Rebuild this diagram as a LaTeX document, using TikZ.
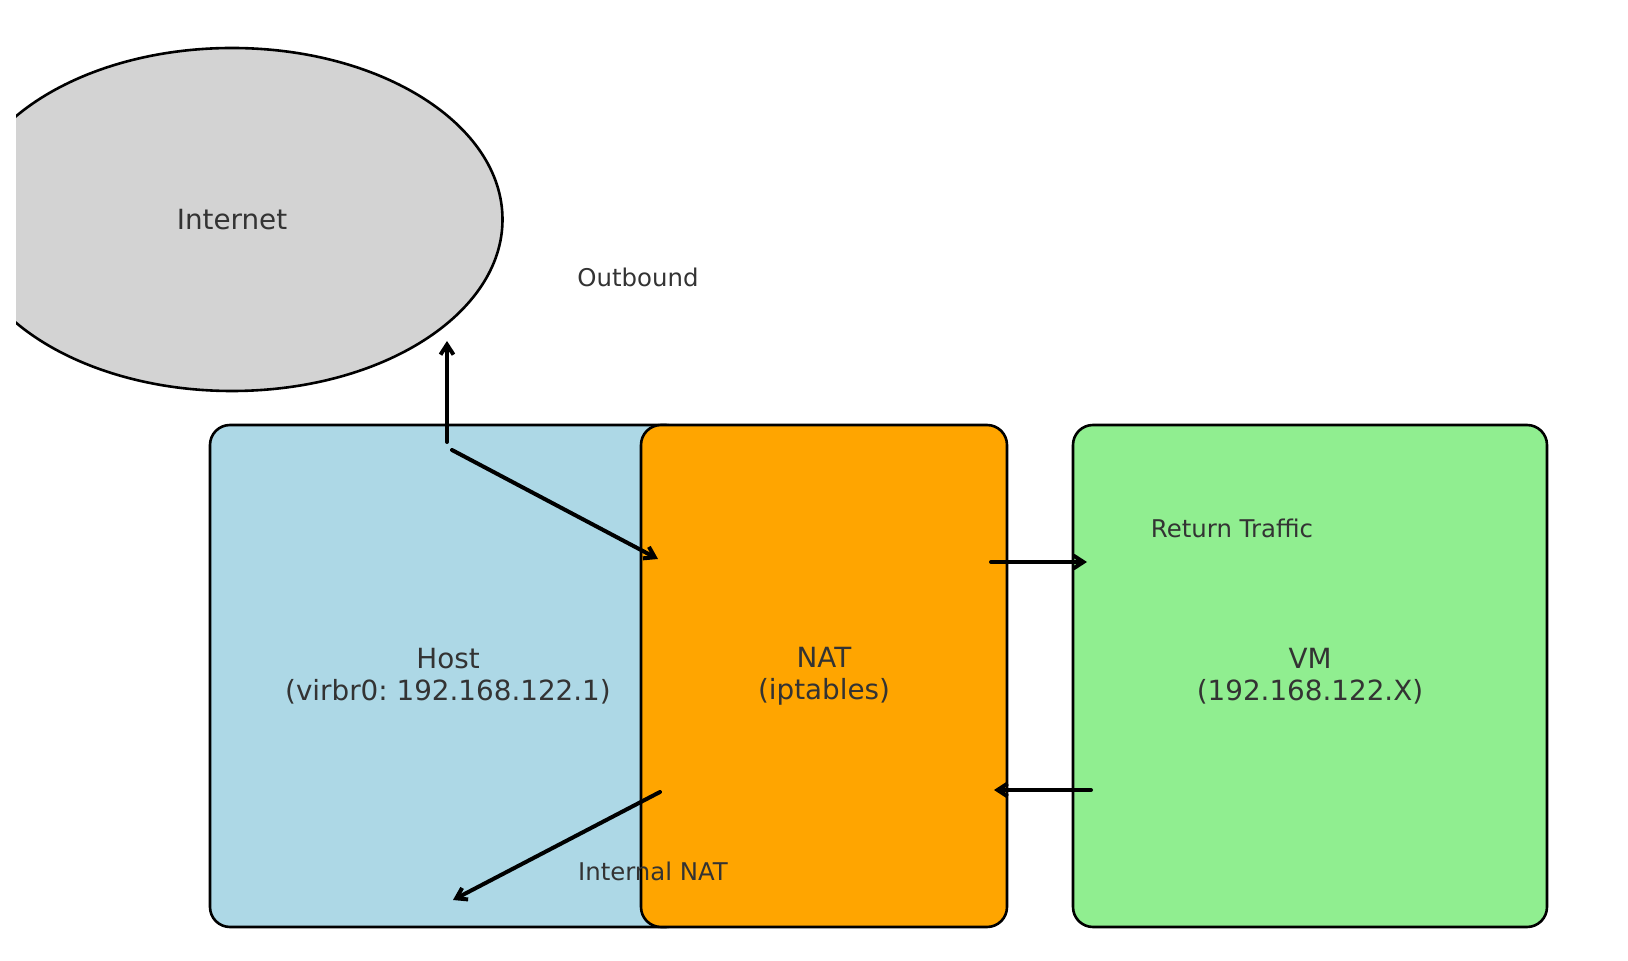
\documentclass[tikz,border=0pt]{standalone}
\usepackage{fontspec}
\setmainfont{DejaVu Sans}
\frenchspacing
\usetikzlibrary{arrows.meta,shapes.geometric}

\definecolor{hostblue}{HTML}{ADD8E6}
\definecolor{natorange}{HTML}{FFA500}
\definecolor{vmgreen}{HTML}{90EE90}
\definecolor{netgray}{HTML}{D3D3D3}
\definecolor{txt}{HTML}{333333}

\begin{document}
\begin{tikzpicture}[
x=0.5pt, y=-0.5pt,
font=\fontsize{13.9}{16.2}\selectfont,
    box/.style={draw=black, line width=1.3pt, rounded corners=10pt,
        minimum height=251pt, inner sep=0pt, align=center, text=txt},
    cloud/.style={ellipse, draw=black, line width=1.3pt, fill=netgray,
        minimum width=270.5pt, minimum height=171.5pt, inner sep=0pt, text=txt},
    lbl/.style={anchor=base, text=txt, font=\fontsize{12.2}{14}\selectfont},
    post/.style={-{Straight Barb[length=5pt,width=6.5pt]}, line width=2pt,
        line cap=round, line join=round}
]
\useasboundingbox (0,0) rectangle (1628,961);

\begin{scope}
\clip (16,0) rectangle (1628,961);
\node[cloud] (internet) at (232,219.5) {Internet};
\end{scope}

\node[box, fill=hostblue, minimum width=238pt] (host) at (448,676) {Host\\(virbr0: 192.168.122.1)};
\node[box, fill=natorange, minimum width=183pt] (nat) at (824,676) {NAT\\(iptables)};
\node[box, fill=vmgreen, minimum width=237pt] (vm) at (1310,676) {VM\\(192.168.122.X)};

% arrow ends
\coordinate (up0) at (447,442);
\coordinate (up1) at (447,341);
\coordinate (d0) at (452,450);
\coordinate (d1) at (658,559);
\coordinate (r0) at (991,562);
\coordinate (r1) at (1087,562);
\coordinate (l0) at (1091,790);
\coordinate (l1) at (994,790);
\coordinate (b0) at (660,792);
\coordinate (b1) at (453,900);

\draw[post] (up0) -- (up1);
\draw[post] (d0) -- (d1);
\draw[post] (r0) -- (r1);
\draw[post] (l0) -- (l1);
\draw[post] (b0) -- (b1);

\node[lbl] (outbound) at (638,286.7) {Outbound};
\node[lbl] (return) at (1232,537.7) {Return Traffic};
\node[lbl] (internal) at (653,880) {Internal NAT};

\end{tikzpicture}
\end{document}
